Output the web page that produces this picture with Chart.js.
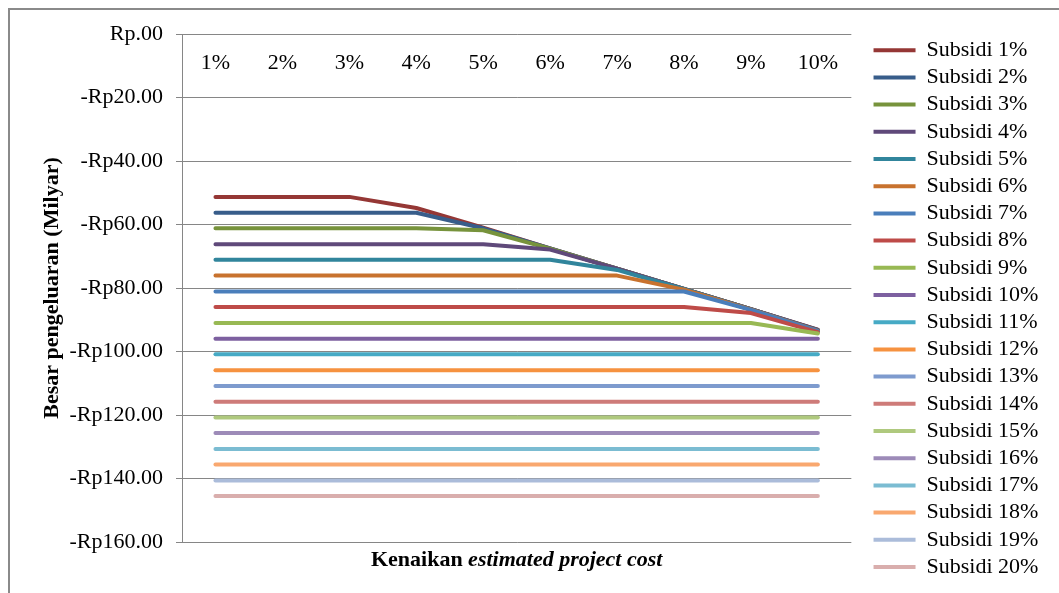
<!DOCTYPE html>
<html>
<head>
<meta charset="utf-8">
<script src="https://cdn.jsdelivr.net/npm/chart.js@4/dist/chart.umd.min.js"></script>
<style>
  html, body { margin: 0; padding: 0; background: #fff; overflow: hidden; }
  #bingkai { position: absolute; left: 8px; top: 8px; width: 1200px; height: 800px; border: 2px solid #8a8a8a; }
  #wadah { position: absolute; left: 0; top: 0; width: 1059px; height: 593px; }
</style>
</head>
<body>
<div id="bingkai"></div>
<div id="wadah"><canvas id="grafik"></canvas></div>
<script>
// Kenaikan estimated project cost (sumbu x)
const kenaikan = ['1%', '2%', '3%', '4%', '5%', '6%', '7%', '8%', '9%', '10%'];

// Besar pengeluaran per tingkat subsidi (Milyar)
const subsidi1 = [-51.3, -51.3, -51.3, -54.8, -61.0, -67.5, -73.9, -80.3, -86.7, -93.1];
const subsidi2 = [-56.3, -56.3, -56.3, -56.3, -61.2, -67.5, -73.9, -80.3, -86.7, -93.2];
const subsidi3 = [-61.2, -61.2, -61.2, -61.2, -61.8, -67.6, -73.9, -80.3, -86.7, -93.4];
const subsidi4 = [-66.2, -66.2, -66.2, -66.2, -66.2, -67.9, -73.9, -80.3, -86.7, -93.3];
const subsidi5 = [-71.1, -71.1, -71.1, -71.1, -71.1, -71.1, -74.3, -80.4, -86.8, -93.4];
const subsidi6 = [-76.1, -76.1, -76.1, -76.1, -76.1, -76.1, -76.1, -80.5, -86.8, -93.5];
const subsidi7 = [-81.1, -81.1, -81.1, -81.1, -81.1, -81.1, -81.1, -81.1, -86.9, -93.6];
const subsidi8 = [-86.0, -86.0, -86.0, -86.0, -86.0, -86.0, -86.0, -86.0, -87.9, -93.9];
const subsidi9 = [-91.0, -91.0, -91.0, -91.0, -91.0, -91.0, -91.0, -91.0, -91.0, -94.3];
const subsidi10 = [-96.0, -96.0, -96.0, -96.0, -96.0, -96.0, -96.0, -96.0, -96.0, -96.0];
const subsidi11 = [-100.9, -100.9, -100.9, -100.9, -100.9, -100.9, -100.9, -100.9, -100.9, -100.9];
const subsidi12 = [-105.9, -105.9, -105.9, -105.9, -105.9, -105.9, -105.9, -105.9, -105.9, -105.9];
const subsidi13 = [-110.9, -110.9, -110.9, -110.9, -110.9, -110.9, -110.9, -110.9, -110.9, -110.9];
const subsidi14 = [-115.8, -115.8, -115.8, -115.8, -115.8, -115.8, -115.8, -115.8, -115.8, -115.8];
const subsidi15 = [-120.8, -120.8, -120.8, -120.8, -120.8, -120.8, -120.8, -120.8, -120.8, -120.8];
const subsidi16 = [-125.7, -125.7, -125.7, -125.7, -125.7, -125.7, -125.7, -125.7, -125.7, -125.7];
const subsidi17 = [-130.7, -130.7, -130.7, -130.7, -130.7, -130.7, -130.7, -130.7, -130.7, -130.7];
const subsidi18 = [-135.6, -135.6, -135.6, -135.6, -135.6, -135.6, -135.6, -135.6, -135.6, -135.6];
const subsidi19 = [-140.6, -140.6, -140.6, -140.6, -140.6, -140.6, -140.6, -140.6, -140.6, -140.6];
const subsidi20 = [-145.5, -145.5, -145.5, -145.5, -145.5, -145.5, -145.5, -145.5, -145.5, -145.5];

const namaSeri = ['Subsidi 1%', 'Subsidi 2%', 'Subsidi 3%', 'Subsidi 4%', 'Subsidi 5%',
  'Subsidi 6%', 'Subsidi 7%', 'Subsidi 8%', 'Subsidi 9%', 'Subsidi 10%',
  'Subsidi 11%', 'Subsidi 12%', 'Subsidi 13%', 'Subsidi 14%', 'Subsidi 15%',
  'Subsidi 16%', 'Subsidi 17%', 'Subsidi 18%', 'Subsidi 19%', 'Subsidi 20%'];

const nilaiSeri = [subsidi1, subsidi2, subsidi3, subsidi4, subsidi5, subsidi6, subsidi7,
  subsidi8, subsidi9, subsidi10, subsidi11, subsidi12, subsidi13, subsidi14, subsidi15,
  subsidi16, subsidi17, subsidi18, subsidi19, subsidi20];

// sumbu y: 0 s/d -160, tiap 20
const tickY = [0, -20, -40, -60, -80, -100, -120, -140, -160];

// palet warna garis
const warna = ['#953735', '#385D8A', '#77933C', '#5F497A', '#31859C', '#C8722E',
  '#4A7EBB', '#BE4B48', '#98B954', '#7D60A0', '#46AAC5', '#F69240',
  '#7E9BCE', '#CE7B79', '#AFC97E', '#9D8BB8', '#7BBCD2', '#F9A86F',
  '#ABBCDA', '#D9AEAD'];

const hurufSerif = '"Liberation Serif", "Times New Roman", serif';
Chart.defaults.font.family = hurufSerif;
Chart.defaults.font.size = 22;
Chart.defaults.color = '#000';

// label kategori ditulis di dalam area plot, tepat di bawah garis nol
const labelKategori = {
  id: 'labelKategori',
  afterDraw(chart) {
    const { ctx, chartArea } = chart;
    const sx = chart.scales.x;
    ctx.save();
    ctx.font = '22px ' + hurufSerif;
    ctx.fillStyle = '#000';
    ctx.textAlign = 'center';
    ctx.textBaseline = 'alphabetic';
    sx.ticks.forEach((t, i) => {
      ctx.fillText(sx.getLabelForValue(t.value), sx.getPixelForTick(i), chartArea.top + 34.5);
    });
    ctx.restore();
  }
};

// judul sumbu x (sebagian miring)
const judulSumbuX = {
  id: 'judulSumbuX',
  afterDraw(chart) {
    const { ctx, chartArea } = chart;
    const bagian = [
      { teks: 'Kenaikan ', font: 'bold 22px ' + hurufSerif },
      { teks: 'estimated project cost', font: 'italic bold 22px ' + hurufSerif }
    ];
    ctx.save();
    let total = 0;
    bagian.forEach(b => {
      ctx.font = b.font;
      b.lebar = ctx.measureText(b.teks).width;
      total += b.lebar;
    });
    let x = (chartArea.left + chartArea.right) / 2 - total / 2;
    const y = chartArea.bottom + 24;
    ctx.fillStyle = '#000';
    ctx.textBaseline = 'alphabetic';
    bagian.forEach(b => {
      ctx.font = b.font;
      ctx.fillText(b.teks, x, y);
      x += b.lebar;
    });
    ctx.restore();
  }
};

const datasets = nilaiSeri.map((data, i) => ({
  label: namaSeri[i],
  data: data,
  borderColor: warna[i],
  backgroundColor: warna[i],
  borderWidth: 4,
  borderCapStyle: 'round',
  borderJoinStyle: 'round',
  pointRadius: 0,
  tension: 0,
  order: nilaiSeri.length - i   // seri belakangan digambar di atas
}));

new Chart(document.getElementById('grafik'), {
  type: 'line',
  data: { labels: kenaikan, datasets: datasets },
  options: {
    responsive: true,
    maintainAspectRatio: false,
    animation: false,
    devicePixelRatio: 1,
    layout: { padding: { top: 34, right: 17, bottom: 0, left: 0 } },
    plugins: {
      tooltip: { enabled: false },
      legend: {
        position: 'right',
        align: 'start',
        labels: {
          usePointStyle: true,
          pointStyle: 'line',
          pointStyleWidth: 42,
          padding: 5.2,
          font: { size: 22 },
          sort: (a, b) => a.datasetIndex - b.datasetIndex
        }
      }
    },
    scales: {
      x: {
        position: 'top',
        offset: true,
        grid: { display: false, drawTicks: false },
        border: { display: false },
        ticks: { display: false },
        afterFit: s => { s.height = 0; }
      },
      xBawah: {
        axis: 'x',
        type: 'linear',
        position: 'bottom',
        grid: { display: false, drawTicks: false },
        border: { display: false },
        ticks: { display: false },
        afterFit: s => { s.height = 51; }
      },
      y: {
        min: -160,
        max: 0,
        afterBuildTicks: s => { s.ticks = tickY.map(v => ({ value: v })); },
        grid: { color: '#868686', lineWidth: 1, tickLength: 6 },
        border: { color: '#868686', width: 1 },
        ticks: {
          padding: 13,
          callback: v => v === 0 ? 'Rp.00' : '-Rp' + Math.abs(v).toFixed(2)
        },
        title: {
          display: true,
          text: 'Besar pengeluaran (Milyar)',
          font: { size: 22, weight: 'bold' },
          padding: { top: 39, bottom: 0 }
        },
        afterFit: s => { s.width = 182; }
      },
      yKanan: {
        axis: 'y',
        type: 'linear',
        position: 'right',
        grid: { display: false, drawTicks: false },
        border: { display: false },
        ticks: { display: false },
        afterFit: s => { s.width = 17; }
      }
    }
  },
  plugins: [labelKategori, judulSumbuX]
});
</script>
</body>
</html>
